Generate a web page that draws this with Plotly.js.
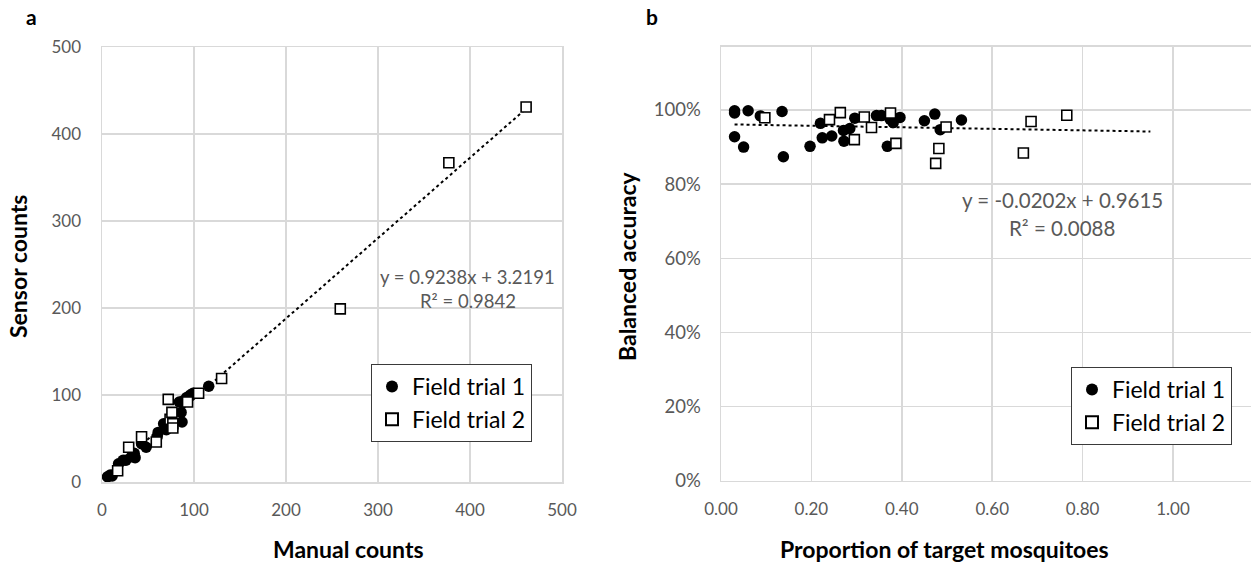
<!DOCTYPE html>
<html>
<head>
<meta charset="utf-8">
<script src="https://cdn.plot.ly/plotly-3.0.1.min.js"></script>
<style>html,body{margin:0;padding:0;background:#fff;}#chart{width:1251px;height:566px;}</style>
</head>
<body>
<div id="chart"></div>
<script>
// ---- Panel a: manual vs sensor counts ----
const aTrial1X = [6, 9, 11, 18, 23, 26, 32, 35, 36, 43, 43, 48, 60, 61, 67, 70, 84, 86, 87, 88, 92, 96, 99, 116];
const aTrial1Y = [6, 8, 7, 21, 25, 25, 29, 33, 28, 44, 45, 40, 52, 57, 67, 60, 92, 80, 69, 93, 97, 100, 102, 110];
const aTrial2X = [17, 29, 43, 59, 72, 74, 76, 77, 77, 93, 105, 130, 259, 377, 461];
const aTrial2Y = [13, 40, 52, 46, 95, 72, 80, 67, 62, 92, 102, 119, 199, 367, 431];
const aTrendX = [5, 461];
const aTrendY = [7.8, 429.1];
const aTicks = [0, 100, 200, 300, 400, 500];

// ---- Panel b: proportion of target mosquitoes vs balanced accuracy ----
const bTrial1X = [0.030, 0.030, 0.060, 0.030, 0.050, 0.087, 0.135, 0.138, 0.197, 0.220, 0.224, 0.245, 0.271, 0.272, 0.285, 0.296, 0.344, 0.355, 0.368, 0.374, 0.381, 0.396, 0.450, 0.473, 0.485, 0.532];
const bTrial1Y = [0.998, 0.992, 0.998, 0.928, 0.900, 0.984, 0.996, 0.874, 0.902, 0.964, 0.925, 0.930, 0.945, 0.916, 0.950, 0.978, 0.985, 0.985, 0.902, 0.975, 0.966, 0.980, 0.971, 0.989, 0.947, 0.973];
const bTrial2X = [0.097, 0.240, 0.264, 0.295, 0.317, 0.333, 0.375, 0.387, 0.475, 0.482, 0.498, 0.669, 0.686, 0.765];
const bTrial2Y = [0.979, 0.974, 0.993, 0.920, 0.981, 0.953, 0.992, 0.910, 0.856, 0.896, 0.954, 0.884, 0.969, 0.986];
const bTrendX = [0.03, 0.95];
const bTrendY = [0.961, 0.942];
const bXTicks = [0, 0.2, 0.4, 0.6, 0.8, 1.0];
const bYTicks = [0, 0.2, 0.4, 0.6, 0.8, 1.0];

const seriesNames = ['Field trial 1', 'Field trial 2'];
const eqA = ['y = 0.9238x + 3.2191', 'R² = 0.9842'];
const eqB = ['y = -0.0202x + 0.9615', 'R² = 0.0088'];

const W = 1251, H = 566;
const px = x => x / W;
const py = y => 1 - y / H;

const FONT = 'Lato, "Open Sans", sans-serif';
const GRID = '#d9d9d9';
const TICKC = '#595959';

const circle = {symbol: 'circle', size: 11.5, color: '#000', line: {width: 0}};
const squareFilled = {symbol: 'square', size: 10, color: '#fff', line: {width: 1.6, color: '#000'}};

const traces = [
  {x: aTrendX, y: aTrendY, xaxis: 'x', yaxis: 'y', mode: 'lines', line: {color: '#000', width: 2, dash: 'dot'}, showlegend: false, hoverinfo: 'skip'},
  {x: aTrial1X, y: aTrial1Y, xaxis: 'x', yaxis: 'y', mode: 'markers', name: seriesNames[0], marker: circle, legend: 'legend'},
  {x: aTrial2X, y: aTrial2Y, xaxis: 'x', yaxis: 'y', mode: 'markers', name: seriesNames[1], marker: squareFilled, legend: 'legend'},
  {x: bTrendX, y: bTrendY, xaxis: 'x2', yaxis: 'y2', mode: 'lines', line: {color: '#000', width: 2, dash: 'dot'}, showlegend: false, hoverinfo: 'skip'},
  {x: bTrial1X, y: bTrial1Y, xaxis: 'x2', yaxis: 'y2', mode: 'markers', name: seriesNames[0], marker: circle, legend: 'legend2'},
  {x: bTrial2X, y: bTrial2Y, xaxis: 'x2', yaxis: 'y2', mode: 'markers', name: seriesNames[1], marker: squareFilled, legend: 'legend2'}
];

function axisBase(extra) {
  return Object.assign({
    showgrid: true, gridcolor: GRID, gridwidth: 1.5,
    zeroline: false, showline: true, linecolor: GRID, linewidth: 1.5, mirror: true,
    ticks: 'outside', tickcolor: 'rgba(0,0,0,0)', ticklen: 12,
    tickfont: {family: FONT, size: 17, color: TICKC},
    fixedrange: true
  }, extra);
}

const legendBase = {
  bgcolor: '#fff', bordercolor: '#3a3a3a', borderwidth: 1,
  font: {family: FONT, size: 23, color: '#000'},
  xanchor: 'left', yanchor: 'top', tracegroupgap: 0, itemsizing: 'constant',
  itemwidth: 30
};

const annFontA = {family: FONT, size: 18.5, color: TICKC};
const annFontB = {family: FONT, size: 20.5, color: TICKC};
const titleFont = {family: FONT, size: 23, color: '#000'};

function ann(x, y, text, font, angle) {
  return {xref: 'paper', yref: 'paper', x: px(x), y: py(y), text: text, showarrow: false,
          xanchor: 'center', yanchor: 'middle', font: font, textangle: angle || 0};
}

const layout = {
  width: W, height: H,
  margin: {l: 0, r: 0, t: 0, b: 0},
  paper_bgcolor: '#fff', plot_bgcolor: '#fff',
  font: {family: FONT},
  showlegend: true,
  xaxis: axisBase({domain: [px(102), px(562)], range: [0, 500], tickvals: aTicks, anchor: 'y'}),
  yaxis: axisBase({domain: [py(482), py(47)], range: [0, 500], tickvals: aTicks, anchor: 'x', ticklen: 16}),
  xaxis2: axisBase({domain: [px(721), 1], range: [0, 1.1726], tickvals: bXTicks, tickformat: '.2f', anchor: 'y2'}),
  yaxis2: axisBase({domain: [py(480.7), py(46.7)], range: [0, 1.1708], tickvals: bYTicks, tickformat: '.0%', anchor: 'x2', ticklen: 15, tickfont: {family: FONT, size: 18.5, color: TICKC}}),
  legend: Object.assign({}, legendBase, {x: px(371), y: py(364)}),
  legend2: Object.assign({}, legendBase, {x: px(1071), y: py(367)}),
  annotations: [
    ann(31, 17, '<b>a</b>', {family: FONT, size: 21, color: '#000'}),
    ann(652, 17, '<b>b</b>', {family: FONT, size: 21, color: '#000'}),
    ann(348, 549, '<b>Manual counts</b>', titleFont),
    ann(18, 267, '<b>Sensor counts</b>', titleFont, -90),
    ann(944, 549, '<b>Proportion of target mosquitoes</b>', titleFont),
    ann(627, 266, '<b>Balanced accuracy</b>', titleFont, -90),
    ann(467, 277, eqA[0], annFontA),
    ann(468, 301, eqA[1], annFontA),
    ann(1062, 200, eqB[0], annFontB),
    ann(1062, 228, eqB[1], annFontB)
  ]
};

Plotly.newPlot('chart', traces, layout, {displayModeBar: false, staticPlot: true});
</script>
</body>
</html>
